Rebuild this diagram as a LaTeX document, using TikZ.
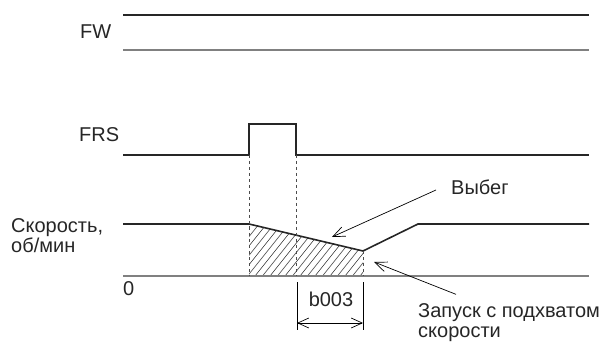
\documentclass[tikz,border=0pt]{standalone}
\usepackage{fontspec}
\setmainfont{Liberation Sans}
\usetikzlibrary{arrows.meta}

\begin{document}
\begin{tikzpicture}[
    x=1pt, y=-1pt,
    lbl/.style={font=\fontsize{20}{20}\selectfont, text=black!85,
                inner sep=0pt, align=left},
    signal/.style={line width=1.6pt, black!85},
    level/.style={line width=1.4pt, black!50},
    guide/.style={line width=0.6pt, black!70, dash pattern=on 3pt off 3pt},
    arrow/.style={-{Straight Barb[length=12pt, width=10pt]}, line width=0.7pt},
    dimarrow/.style={{Straight Barb[length=11pt, width=10pt]}-{Straight Barb[length=11pt, width=10pt]},
                     line width=0.7pt},
]
    \useasboundingbox (0,0) rectangle (613,358);

    % labels
    \node[lbl, anchor=west] (fw) at (80,32) {FW};
    \node[lbl, anchor=west] (frs) at (79,135) {FRS};
    \node[lbl, anchor=base west] (speed) at (11,252) {Скорость,\\об/мин};
    \node[lbl, anchor=base west] (zero) at (123,295) {0};
    \node[lbl, anchor=west] (coast) at (451,187) {Выбег};
    \node[lbl, anchor=base west, font=\fontsize{20}{19.5}\selectfont] (catch) at (418,337)
        {Запуск с подхватом\\скорости};
    \node[lbl] (b003) at (331,299) {b003};

    % FW
    \draw[signal] (123,15) -- (589,15);
    \draw[level] (123,50) -- (589,50);

    % FRS
    \draw[signal] (123,155) -- (249,155) -- (249,124) -- (296,124) -- (296,155) -- (589,155);

    % speed, hatched run-down area
    \begin{scope}
        \clip (249,224) -- (363,251) -- (363,276) -- (249,276) -- cycle;
        \foreach \x in {210,217.5,...,370}
            \draw[line width=0.6pt, black!75] (\x,276) -- (\x+40,226);
    \end{scope}
    \draw[level] (123,276) -- (589,276);
    \draw[signal] (123,224) -- (249,224) -- (363,251) -- (418,224) -- (589,224);

    % guides
    \draw[guide] (249,155) -- (249,276);
    \draw[guide] (296,155) -- (296,276);
    \draw[guide] (363,251) -- (363,276);

    % b003 dimension
    \coordinate (dimL) at (297,323);
    \coordinate (dimR) at (363,323);
    \draw[line width=0.6pt] (297,282) -- (297,330);
    \draw[line width=0.6pt] (363,282) -- (363,330);
    \draw[dimarrow] (dimL) -- (dimR);

    % pointers
    \coordinate (coasttip) at (332,237);
    \coordinate (catchtip) at (374,262);
    \draw[arrow] ([xshift=-15pt,yshift=-3pt]coast.west) -- (coasttip);
    \draw[arrow] ([xshift=38pt,yshift=9pt]catch.north west) -- (catchtip);
\end{tikzpicture}
\end{document}
